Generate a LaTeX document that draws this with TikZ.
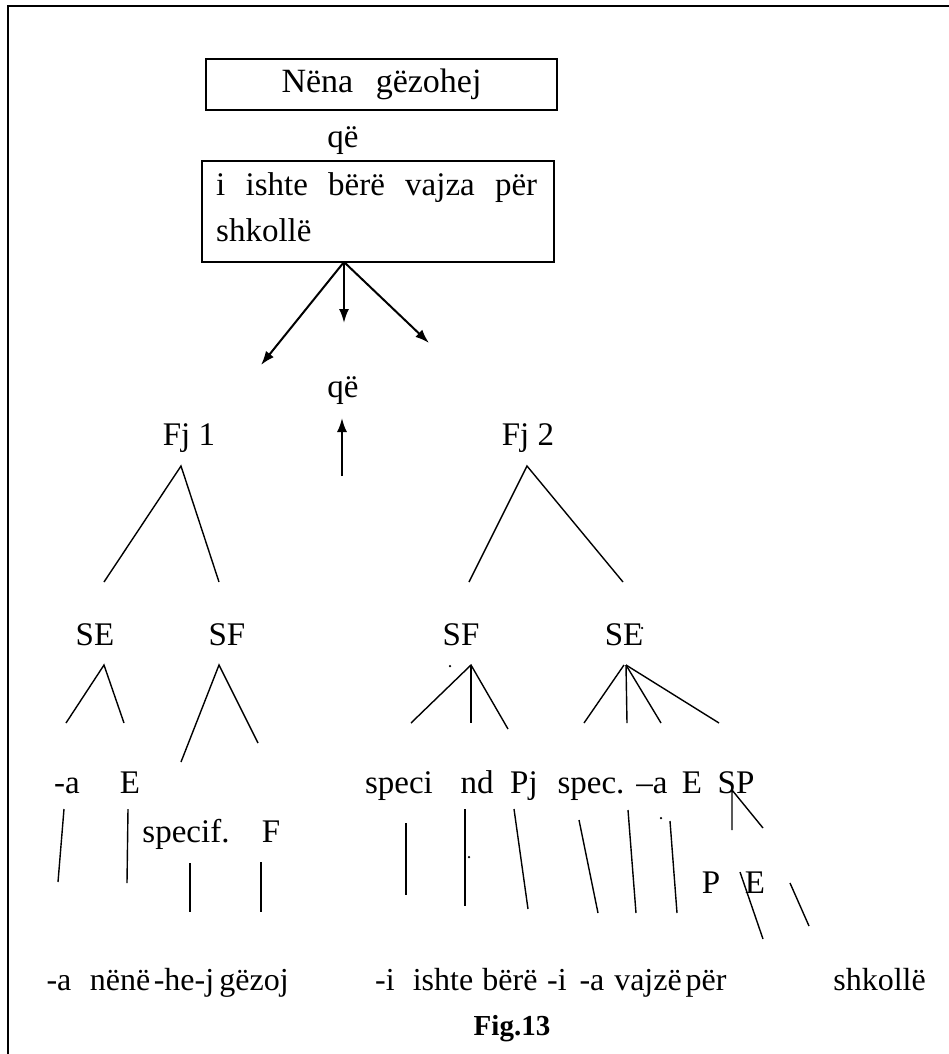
\documentclass[tikz,border=0pt]{standalone}
\usepackage{fontspec}
\setmainfont{Liberation Serif}
\usetikzlibrary{arrows.meta}
\begin{document}
\begin{tikzpicture}[x=1pt,y=-1pt,
  lbl/.style={font=\fontsize{33}{38}\selectfont, inner sep=0pt, anchor=base},
  wrd/.style={font=\fontsize{32}{38}\selectfont, inner sep=0pt, anchor=base},
  branch/.style={line width=1.4pt},
  arr/.style={line width=2pt, -{Latex[length=14pt,width=10pt]}},
  boxst/.style={draw, line width=2pt, inner sep=0pt},
  speck/.style={fill, circle, inner sep=0pt, minimum size=2.5pt}]
\useasboundingbox (0,0) rectangle (949,1054);
\fill[white] (0,0) rectangle (949,1054);
\draw[line width=2pt] (949,6) -- (7.5,6) -- (7.5,1054);

% top boxes
\node[boxst, minimum width=351pt, minimum height=51pt, font=\fontsize{34}{38}\selectfont] (main) at (381.5,84.5) {\makebox[200pt]{Nëna\hfill gëzohej}};
\node[lbl] (qe1) at (343,147) {që};
\node[boxst, minimum width=352pt, minimum height=101pt] (sub) at (378,211.5) {};
\node[lbl, anchor=base west] (subA) at (216,195) {\makebox[321pt][s]{i ishte bërë vajza për}};
\node[lbl, anchor=base west] (subB) at (216,241) {shkollë};

% arrows
\coordinate (src) at (344,262);
\coordinate (tL) at (261,365);
\coordinate (tM) at (344,323);
\coordinate (tR) at (429,343);
\draw[arr] (src) -- (tL);
\draw[arr] (src) -- (tM);
\draw[arr] (src) -- (tR);
\node[lbl] (qe2) at (343,397) {që};
\coordinate (upA) at (342,476);
\coordinate (upB) at (342,418);
\draw[arr] (upA) -- (upB);

% level Fj
\node[lbl] (fj1) at (189,445) {Fj 1};
\node[lbl] (fj2) at (528,445) {Fj 2};
\coordinate (fj1a) at (181,466); \coordinate (fj1l) at (104,582); \coordinate (fj1r) at (219,582);
\coordinate (fj2a) at (527,466); \coordinate (fj2l) at (469,582); \coordinate (fj2r) at (623,582);
\draw[branch] (fj1l) -- (fj1a) -- (fj1r);
\draw[branch] (fj2l) -- (fj2a) -- (fj2r);

% phrase level
\node[lbl] (se1) at (95,645) {SE};
\node[lbl] (sf1) at (227,645) {SF};
\node[lbl] (sf2) at (461,645) {SF};
\node[lbl] (se2) at (624,645) {SE};
\node[speck] (dA) at (642,628) {};
\node[speck] (dB) at (450,666) {};

\coordinate (se1a) at (104,665); \coordinate (se1l) at (66,723); \coordinate (se1r) at (124,723);
\draw[branch] (se1l) -- (se1a) -- (se1r);
\coordinate (sf1a) at (219,665); \coordinate (sf1l) at (181,762); \coordinate (sf1r) at (258,743);
\draw[branch] (sf1l) -- (sf1a) -- (sf1r);
\coordinate (sf2a) at (471,665); \coordinate (sf2l) at (411,723); \coordinate (sf2m) at (471,723); \coordinate (sf2r) at (508,729);
\draw[branch] (sf2l) -- (sf2a) -- (sf2r);
\draw[branch] (sf2a) -- (sf2m);
\coordinate (se2a) at (624,665); \coordinate (se2b) at (626,665);
\coordinate (se2l) at (584,723); \coordinate (se2m) at (627,723); \coordinate (se2n) at (661,723); \coordinate (se2r) at (719,723);
\draw[branch] (se2l) -- (se2a);
\draw[branch] (se2b) -- (se2m);
\draw[branch] (se2b) -- (se2n);
\draw[branch] (se2b) -- (se2r);

% constituent level
\node[lbl] (ca) at (67,793) {-a};
\node[lbl] (cE) at (130,793) {E};
\node[lbl] (cspeci) at (399,793) {speci};
\node[lbl] (cnd) at (477,793) {nd};
\node[lbl] (cPj) at (524,793) {Pj};
\node[lbl] (cspec) at (591,793) {spec.};
\node[lbl] (cda) at (652,793) {–a};
\node[lbl] (cE2) at (692,793) {E};
\node[lbl] (cSP) at (736,793) {SP};
\node[lbl] (cspecif) at (186,842) {specif.};
\node[lbl] (cF) at (271,842) {F};
\node[lbl] (cP) at (711,893) {P};
\node[lbl] (cE3) at (755,893) {E};
\node[speck] (dC) at (469,857) {};
\node[speck] (dD) at (661,818) {};

% leaf lines
\coordinate (l1a) at (64,809);  \coordinate (l1b) at (58,882);
\coordinate (l2a) at (128,809); \coordinate (l2b) at (127,883);
\coordinate (l3a) at (190,863); \coordinate (l3b) at (190,912);
\coordinate (l4a) at (261,862); \coordinate (l4b) at (261,912);
\coordinate (l5a) at (406,823); \coordinate (l5b) at (406,895);
\coordinate (l6a) at (465,809); \coordinate (l6b) at (465,906);
\coordinate (l7a) at (514,809); \coordinate (l7b) at (528,909);
\coordinate (l8a) at (579,820); \coordinate (l8b) at (598,913);
\coordinate (l9a) at (628,810); \coordinate (l9b) at (636,913);
\coordinate (l10a) at (670,821); \coordinate (l10b) at (677,913);
\coordinate (spa) at (732,790); \coordinate (spl) at (732,830); \coordinate (spr) at (763,828);
\coordinate (l11a) at (740,872); \coordinate (l11b) at (763,939);
\coordinate (l12a) at (790,883); \coordinate (l12b) at (809,926);
\foreach \i in {1,...,12} {\draw[branch] (l\i a) -- (l\i b);}
\draw[branch] (spl) -- (spa) -- (spr);

% bottom words
\node[wrd] (w1) at (59,990) {-a};
\node[wrd] (w2) at (120,990) {nënë};
\node[wrd] (w3) at (184,990) {-he-j};
\node[wrd] (w4) at (254,990) {gëzoj};
\node[wrd] (w5) at (385,990) {-i};
\node[wrd] (w6) at (443,990) {ishte};
\node[wrd] (w7) at (510,990) {bërë};
\node[wrd] (w8) at (557,990) {-i};
\node[wrd] (w9) at (592,990) {-a};
\node[wrd] (w10) at (648,990) {vajzë};
\node[wrd] (w11) at (706,990) {për};
\node[wrd, anchor=base east] (w12) at (926,990) {shkollë};

\node[font=\fontsize{29}{34}\selectfont\bfseries, inner sep=0pt, anchor=base] (cap) at (512,1035) {Fig.13};
\end{tikzpicture}
\end{document}
